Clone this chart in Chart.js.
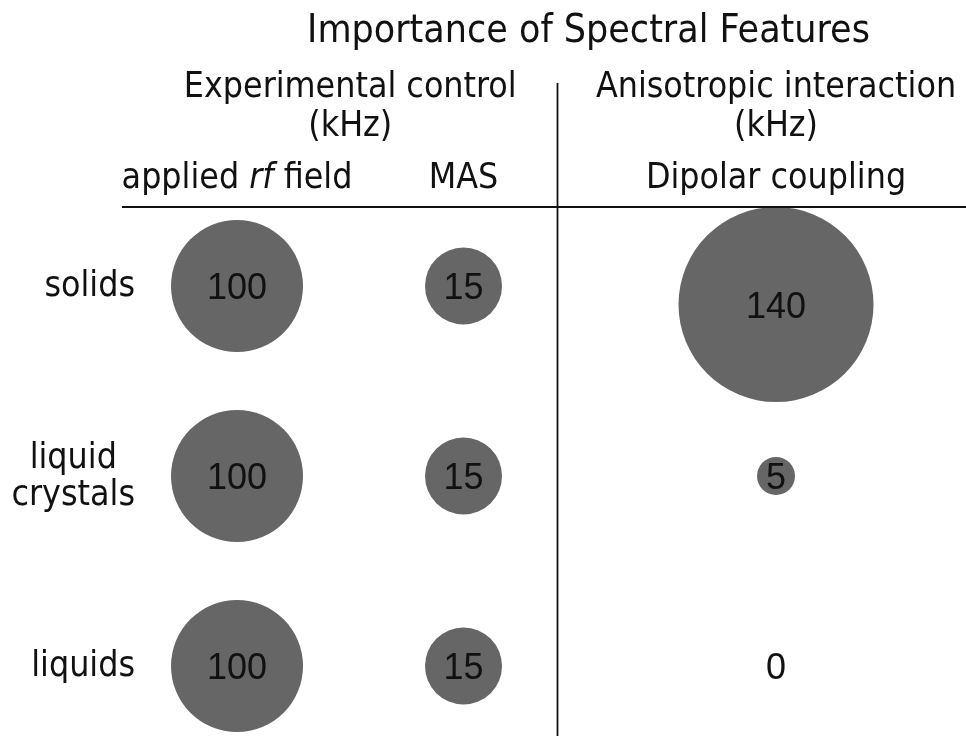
<!DOCTYPE html>
<html><head><meta charset="utf-8">
<script src="https://cdn.jsdelivr.net/npm/chart.js@4"></script>
<style>html,body{margin:0;padding:0;background:#fff;overflow:hidden}#wrap{width:966px;height:736px;position:relative}</style>
</head><body><div id="wrap"><canvas id="c" width="966" height="736"></canvas></div>
<script>
// ---- data ----
const chartTitle = 'Importance of Spectral Features';
const groupLabels = [['Experimental control', '(kHz)'], ['Anisotropic interaction', '(kHz)']];
const columnLabels = ['applied rf field', 'MAS', 'Dipolar coupling'];
const rowLabels = [['solids'], ['liquid', 'crystals'], ['liquids']];
const rfFieldKHz = [100, 100, 100];
const masKHz = [15, 15, 15];
const dipolarKHz = [140, 5, 0];

// ---- style (bubble radius per value as drawn in the figure, px) ----
const bubbleRadiusStyle = { 0: 0, 5: 19, 15: 38.5, 100: 66, 140: 97.5 };
const radiusFor = v => bubbleRadiusStyle[v] !== undefined ? bubbleRadiusStyle[v] : Math.sqrt(v) * 7;
const BUBBLE_COLOR = '#666666';
const INK = '#111111';

function hasFont(name) {
  const c = document.createElement('canvas').getContext('2d');
  c.font = '40px monospace';
  const a = c.measureText('MASabcWwi').width;
  c.font = '40px "' + name + '", monospace';
  return c.measureText('MASabcWwi').width !== a;
}
const TEXT_FAMILY = hasFont('DejaVu Sans Condensed') ? '"DejaVu Sans Condensed", "DejaVu Sans", sans-serif' : '"DejaVu Sans", sans-serif';
const NUM_FAMILY = '"Liberation Sans", Arial, sans-serif';
function fitSize(text, target, style) {
  const c = document.createElement('canvas').getContext('2d');
  c.font = (style || '') + ' 100px ' + TEXT_FAMILY;
  return 100 * target / c.measureText(text).width;
}
const TITLE_SIZE = fitSize(chartTitle, 563);
const HEAD_SIZE = fitSize(groupLabels[0][0], 333);
const NUM_SIZE = 36;

// ---- layout of decorations ----
const L = {
  titleX: 588.5, titleBase: 42,
  groupBase1: 97, groupBase2: 136,
  colBase: 188,
  headerLineY: 207, headerLineX0: 122,
  dividerX: 557.5, dividerTop: 83,
  rowLabelRight: 135, rowLineGap: 37, rowBaseOffset: 10
};

function pts(values, col) {
  return values.map((v, i) => ({ x: col, y: i, r: radiusFor(v), v: v }));
}

const decor = {
  id: 'decor',
  beforeDraw(chart) {
    const ctx = chart.ctx;
    ctx.save(); ctx.fillStyle = '#fff'; ctx.fillRect(0, 0, chart.width, chart.height); ctx.restore();
  },
  afterDatasetsUpdate(chart) {
    // a bubble never crosses the header rule: push it down below the line
    chart.data.datasets.forEach((ds, di) => {
      chart.getDatasetMeta(di).data.forEach(el => {
        const r = el.options.radius;
        if (r > 0 && el.y - r < L.headerLineY) el.y = L.headerLineY + r;
      });
    });
  },
  afterDatasetsDraw(chart) {
    const ctx = chart.ctx;
    const xE = chart.scales.xExp, xA = chart.scales.xAni, y = chart.scales.y;
    ctx.save();
    ctx.fillStyle = INK;
    // numbers in bubbles
    ctx.font = NUM_SIZE + 'px ' + NUM_FAMILY;
    ctx.textAlign = 'center'; ctx.textBaseline = 'alphabetic';
    chart.data.datasets.forEach((ds, di) => {
      chart.getDatasetMeta(di).data.forEach((el, i) => {
        ctx.fillText(String(ds.data[i].v), el.x, el.y + NUM_SIZE * 0.37);
      });
    });
    // rules
    ctx.strokeStyle = INK; ctx.lineWidth = 1.8;
    ctx.beginPath();
    ctx.moveTo(L.headerLineX0, L.headerLineY); ctx.lineTo(chart.width, L.headerLineY);
    ctx.moveTo(L.dividerX, L.dividerTop); ctx.lineTo(L.dividerX, chart.height);
    ctx.stroke();
    // title
    ctx.font = TITLE_SIZE + 'px ' + TEXT_FAMILY;
    ctx.fillText(chartTitle, L.titleX, L.titleBase);
    // group headers
    ctx.font = HEAD_SIZE + 'px ' + TEXT_FAMILY;
    const gx = [(xE.getPixelForValue(0) + xE.getPixelForValue(1)) / 2, xA.getPixelForValue(0)];
    groupLabels.forEach((g, k) => {
      ctx.fillText(g[0], gx[k], L.groupBase1);
      ctx.fillText(g[1], gx[k], L.groupBase2);
    });
    // column labels
    const cx = [xE.getPixelForValue(0), xE.getPixelForValue(1), xA.getPixelForValue(0)];
    columnLabels.forEach((t, k) => {
      if (t.indexOf(' rf ') >= 0) {
        const parts = t.split(' rf ');
        const segs = [[parts[0] + ' ', ''], ['rf', 'italic '], [' ' + parts[1], '']];
        let total = 0;
        segs.forEach(s => { ctx.font = s[1] + HEAD_SIZE + 'px ' + TEXT_FAMILY; s.push(ctx.measureText(s[0]).width); total += s[2]; });
        let x0 = cx[k] - total / 2;
        ctx.textAlign = 'left';
        segs.forEach(s => { ctx.font = s[1] + HEAD_SIZE + 'px ' + TEXT_FAMILY; ctx.fillText(s[0], x0, L.colBase); x0 += s[2]; });
        ctx.textAlign = 'center';
      } else {
        ctx.font = HEAD_SIZE + 'px ' + TEXT_FAMILY;
        ctx.fillText(t, cx[k], L.colBase);
      }
    });
    // row labels (block right-aligned, lines centred within block)
    ctx.font = HEAD_SIZE + 'px ' + TEXT_FAMILY;
    rowLabels.forEach((lines, i) => {
      const cy = y.getPixelForValue(i);
      const w = Math.max(...lines.map(s => ctx.measureText(s).width));
      const mid = L.rowLabelRight - w / 2;
      lines.forEach((s, k) => {
        ctx.fillText(s, mid, cy + L.rowBaseOffset + (k - (lines.length - 1) / 2) * L.rowLineGap);
      });
    });
    ctx.restore();
  }
};

new Chart(document.getElementById('c'), {
  type: 'bubble',
  data: {
    datasets: [
      { label: columnLabels[0], xAxisID: 'xExp', yAxisID: 'y', data: pts(rfFieldKHz, 0) },
      { label: columnLabels[1], xAxisID: 'xExp', yAxisID: 'y', data: pts(masKHz, 1) },
      { label: columnLabels[2], xAxisID: 'xAni', yAxisID: 'y', data: pts(dipolarKHz, 0) }
    ]
  },
  options: {
    responsive: false,
    animation: false,
    events: [],
    layout: { padding: 0, autoPadding: false },
    elements: { point: { backgroundColor: BUBBLE_COLOR, borderWidth: 0, hoverBorderWidth: 0 } },
    plugins: { legend: { display: false }, tooltip: { enabled: false }, title: { display: false } },
    scales: {
      xExp: { type: 'linear', display: false, min: -1.0464, max: 3.2185 },
      xAni: { type: 'linear', display: false, min: -3.4261, max: 0.8388 },
      y: { type: 'linear', display: false, reverse: true, min: -1.5053, max: 2.3684 }
    }
  },
  plugins: [decor]
});
</script>
</body></html>
